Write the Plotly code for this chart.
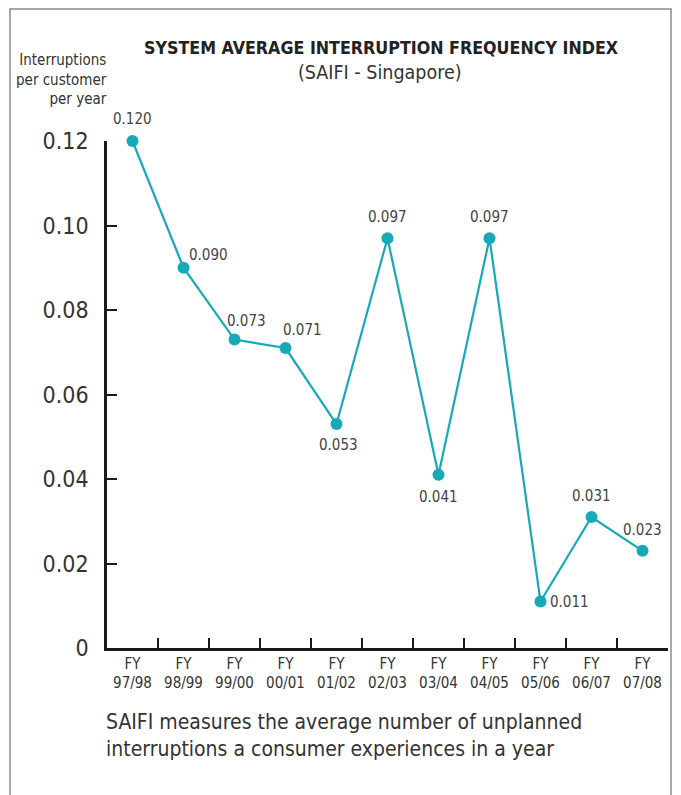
import plotly.graph_objects as go

# --- data ---
years = ["97/98", "98/99", "99/00", "00/01", "01/02", "02/03",
         "03/04", "04/05", "05/06", "06/07", "07/08"]
saifi = [0.120, 0.090, 0.073, 0.071, 0.053, 0.097,
         0.041, 0.097, 0.011, 0.031, 0.023]
y_ticks = [0, 0.02, 0.04, 0.06, 0.08, 0.10, 0.12]
y_tick_labels = ["0", "0.02", "0.04", "0.06", "0.08", "0.10", "0.12"]

categories = ["FY<br>" + y for y in years]

FONT = "DejaVu Sans Condensed, Roboto, sans-serif"
TEAL = "#17a9b8"
INK = "#333333"

# pixel layout of the plot box (page pixels); the page body adds an 8px offset
W, H = 681, 795
OFF = 8
L, R, T, B = 107, 668, 141, 648


def px(x, y):
    # page pixel position -> paper coords
    return (x - L) / (R - L), (B - y) / (B - T)


fig = go.Figure()
fig.add_trace(go.Scatter(
    x=categories, y=saifi, mode="lines+markers",
    line=dict(color=TEAL, width=2.2),
    marker=dict(color=TEAL, size=12),
    cliponaxis=False, hoverinfo="x+y",
))

# value labels: (xshift, yshift) per point
offsets = [(0, 22), (25, 13), (12, 19), (17, 18), (2, -21), (0, 21),
           (0, -22), (0, 21), (29, 0), (0, 21), (0, 21)]
for c, v, (dx, dy) in zip(categories, saifi, offsets):
    fig.add_annotation(x=c, y=v, text=f"{v:.3f}", showarrow=False,
                       xshift=dx, yshift=dy,
                       font=dict(family=FONT, size=15, color="#444444"))


def note(x, y, text, size, xanchor="center", align="center", color=INK):
    ax, ay = px(x, y)
    fig.add_annotation(x=ax, y=ay, xref="paper", yref="paper", showarrow=False,
                       xanchor=xanchor, yanchor="middle", align=align,
                       text=text, font=dict(family=FONT, size=size, color=color))


note(381, 48, "<b>SYSTEM AVERAGE INTERRUPTION FREQUENCY INDEX</b>", 17.7,
     color="#222222")
note(380, 73, "(SAIFI - Singapore)", 19.5)
note(109, 79, "Interruptions<br>per customer<br>per year", 15,
     xanchor="right", align="right")
note(104, 735, "SAIFI measures the average number of unplanned<br>"
               "interruptions a consumer experiences in a year", 21,
     xanchor="left", align="left")

# outer frame (right edge pulled in a little so it stays on screen)
x0, y0 = px(10, 9)
x1, y1 = px(671, 820)
fig.add_shape(type="rect", xref="paper", yref="paper",
              x0=x0, y0=y1, x1=x1, y1=y0,
              line=dict(color="#8a8a8a", width=1.5))

fig.update_layout(
    width=W, height=H,
    margin=dict(l=L - OFF, r=W - (R - OFF), t=T - OFF, b=H - (B - OFF)),
    paper_bgcolor="white", plot_bgcolor="white",
    showlegend=False,
    font=dict(family=FONT, color=INK),
)
fig.update_xaxes(
    range=[-0.5, 10.5], showgrid=False, zeroline=False, automargin=False,
    showline=True, linecolor="#1a1a1a", linewidth=2.5,
    ticks="inside", tickson="boundaries", ticklen=10, tickwidth=2,
    tickcolor="#1a1a1a", tickangle=0,
    tickfont=dict(family=FONT, size=15, color=INK),
)
fig.update_yaxes(
    range=[0, 0.12], showgrid=False, zeroline=False, automargin=False,
    showline=True, linecolor="#1a1a1a", linewidth=2.5,
    ticks="inside", ticklen=10, tickwidth=2, tickcolor="#1a1a1a",
    tickvals=y_ticks, ticktext=y_tick_labels, ticklabelstandoff=11,
    tickfont=dict(family=FONT, size=23, color=INK),
)

fig.write_html("out.html")
